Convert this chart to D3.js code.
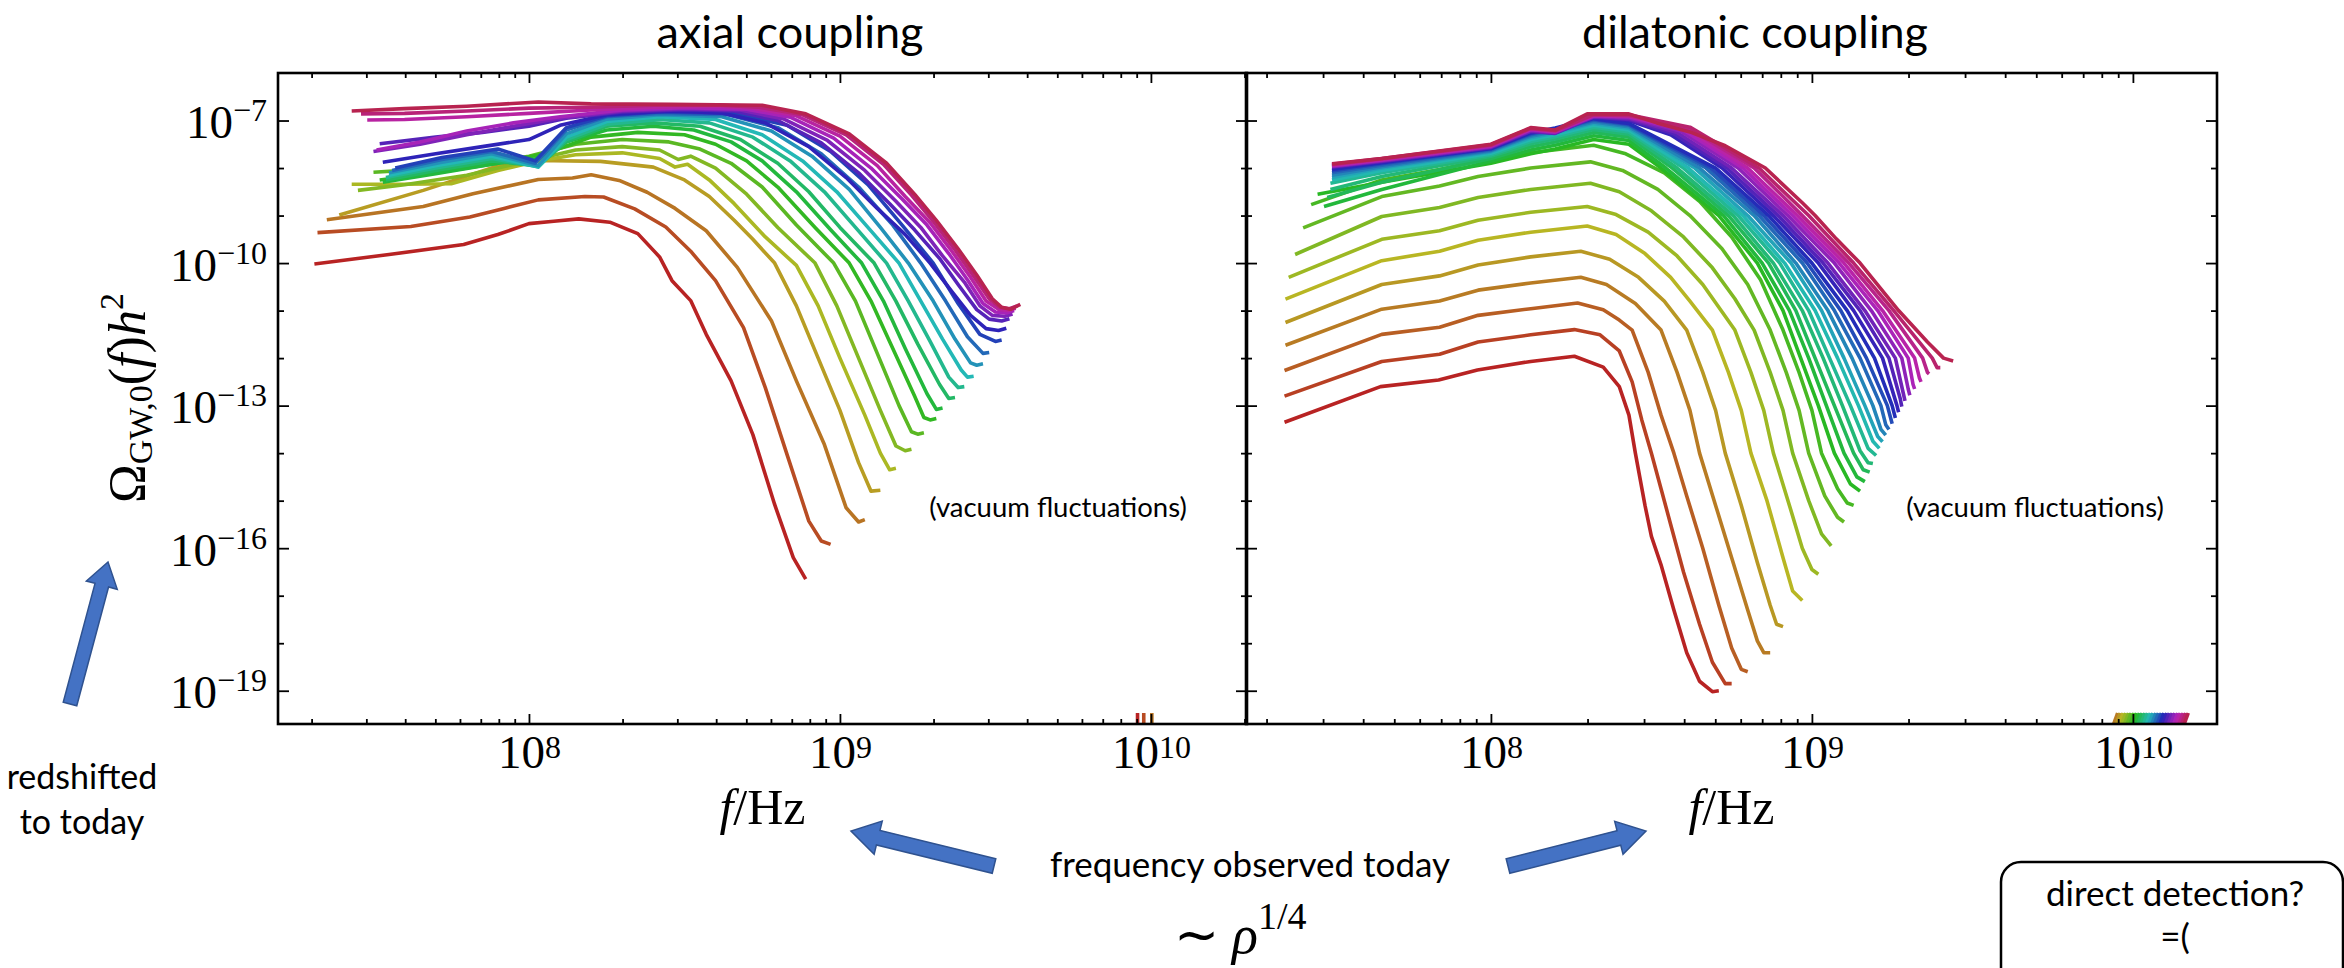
<!DOCTYPE html>
<html>
<head>
<meta charset="utf-8">
<title>Gravitational wave spectra: axial vs dilatonic coupling</title>
<script src="https://cdn.jsdelivr.net/npm/d3@7"></script>
<style>
  body { margin: 0; background: #fff; }
  text { fill: #000; }
  .tick line { stroke: #000; stroke-width: 1.8; }
  .domain { display: none; }
</style>
</head>
<body>
<svg id="chart" width="2344" height="968"></svg>
<script>
// every curve is a list of [log10(f/Hz), log10(Omega_GW,0 h^2)]

const axialCurves = [
  [[7.31,-10.02],[7.55,-9.82],[7.79,-9.61],[7.9,-9.4],[8.0,-9.17],[8.08,-9.12],[8.16,-9.07],[8.26,-9.14],[8.35,-9.38],[8.42,-9.87],[8.46,-10.37],[8.52,-10.79],[8.57,-11.5],[8.65,-12.48],[8.72,-13.61],[8.79,-15.08],[8.85,-16.2],[8.89,-16.65]],
  [[7.32,-9.36],[7.62,-9.23],[7.81,-9.03],[7.92,-8.85],[8.03,-8.67],[8.18,-8.6],[8.24,-8.61],[8.34,-8.86],[8.44,-9.24],[8.52,-9.75],[8.6,-10.37],[8.69,-11.36],[8.76,-12.62],[8.83,-14.03],[8.9,-15.43],[8.94,-15.85],[8.97,-15.92]],
  [[7.35,-9.09],[7.66,-8.81],[7.82,-8.54],[8.03,-8.24],[8.14,-8.21],[8.2,-8.14],[8.29,-8.26],[8.38,-8.51],[8.47,-8.85],[8.57,-9.32],[8.67,-10.09],[8.78,-11.22],[8.86,-12.48],[8.95,-13.82],[9.02,-15.15],[9.06,-15.45],[9.08,-15.4]],
  [[7.39,-8.99],[7.66,-8.47],[7.89,-7.98],[8.03,-7.84],[8.23,-7.86],[8.4,-7.98],[8.5,-8.25],[8.58,-8.6],[8.66,-9.1],[8.72,-9.5],[8.79,-10.0],[8.86,-10.9],[8.93,-12.0],[9.0,-13.1],[9.06,-14.2],[9.1,-14.8],[9.13,-14.78]],
  [[7.43,-8.34],[7.6,-8.34],[7.75,-8.33],[7.9,-8.05],[8.03,-7.85],[8.15,-7.72],[8.3,-7.68],[8.42,-7.8],[8.47,-7.98],[8.51,-7.92],[8.58,-8.25],[8.66,-8.75],[8.76,-9.45],[8.86,-10.05],[8.93,-10.9],[9.0,-12.0],[9.08,-13.2],[9.13,-14.0],[9.16,-14.35],[9.18,-14.32]],
  [[7.45,-8.47],[7.6,-8.35],[7.8,-8.15],[8.0,-7.85],[8.15,-7.62],[8.3,-7.55],[8.42,-7.62],[8.48,-7.82],[8.52,-7.75],[8.6,-8.0],[8.7,-8.55],[8.8,-9.25],[8.92,-10.0],[8.99,-10.9],[9.06,-12.0],[9.13,-13.1],[9.18,-13.85],[9.21,-13.95],[9.23,-13.92]],
  [[7.5,-8.09],[7.6,-8.05],[7.8,-7.95],[8.0,-7.75],[8.15,-7.5],[8.3,-7.4],[8.45,-7.45],[8.55,-7.6],[8.65,-7.9],[8.75,-8.4],[8.86,-9.2],[8.98,-10.0],[9.05,-10.8],[9.12,-11.9],[9.19,-13.0],[9.23,-13.55],[9.25,-13.6],[9.27,-13.57]],
  [[7.52,-8.25],[7.7,-8.1],[7.9,-7.9],[8.05,-7.7],[8.2,-7.35],[8.35,-7.25],[8.5,-7.3],[8.6,-7.5],[8.7,-7.85],[8.8,-8.4],[8.92,-9.25],[9.03,-10.0],[9.1,-10.8],[9.17,-11.8],[9.24,-12.8],[9.27,-13.25],[9.29,-13.3],[9.31,-13.27]],
  [[7.53,-8.3],[7.7,-8.12],[7.9,-7.9],[8.03,-7.8],[8.12,-7.45],[8.25,-7.2],[8.4,-7.12],[8.53,-7.2],[8.65,-7.45],[8.75,-7.85],[8.86,-8.5],[8.97,-9.3],[9.07,-10.0],[9.14,-10.8],[9.21,-11.8],[9.28,-12.75],[9.31,-13.08],[9.33,-13.05]],
  [[7.54,-8.25],[7.7,-8.05],[7.88,-7.85],[8.03,-7.95],[8.12,-7.45],[8.25,-7.12],[8.4,-7.05],[8.55,-7.12],[8.68,-7.4],[8.8,-7.9],[8.9,-8.5],[9.0,-9.25],[9.11,-10.0],[9.18,-10.8],[9.25,-11.7],[9.32,-12.55],[9.35,-12.85],[9.37,-12.83]],
  [[7.54,-8.2],[7.7,-8.0],[7.88,-7.8],[8.03,-7.97],[8.12,-7.4],[8.25,-7.08],[8.42,-6.98],[8.58,-7.05],[8.72,-7.35],[8.84,-7.85],[8.95,-8.5],[9.05,-9.25],[9.15,-10.0],[9.22,-10.8],[9.29,-11.65],[9.35,-12.4],[9.38,-12.62],[9.4,-12.6]],
  [[7.55,-8.15],[7.7,-7.95],[7.88,-7.75],[8.03,-7.98],[8.12,-7.35],[8.25,-7.02],[8.42,-6.92],[8.6,-6.98],[8.75,-7.3],[8.88,-7.85],[8.99,-8.5],[9.09,-9.25],[9.19,-10.0],[9.26,-10.8],[9.33,-11.6],[9.39,-12.25],[9.41,-12.4],[9.43,-12.38]],
  [[7.55,-8.1],[7.72,-7.88],[7.88,-7.7],[8.03,-7.95],[8.12,-7.28],[8.25,-6.97],[8.42,-6.88],[8.62,-6.92],[8.78,-7.22],[8.91,-7.75],[9.03,-8.45],[9.13,-9.25],[9.22,-10.0],[9.3,-10.8],[9.37,-11.6],[9.42,-12.1],[9.44,-12.15],[9.46,-12.12]],
  [[7.56,-8.05],[7.72,-7.82],[7.88,-7.65],[8.02,-7.9],[8.12,-7.2],[8.25,-6.92],[8.42,-6.85],[8.64,-6.88],[8.8,-7.15],[8.94,-7.7],[9.06,-8.4],[9.17,-9.2],[9.26,-10.0],[9.34,-10.8],[9.41,-11.55],[9.46,-11.9],[9.48,-11.88]],
  [[7.57,-8.0],[7.72,-7.78],[7.9,-7.6],[8.02,-7.85],[8.12,-7.15],[8.25,-6.9],[8.42,-6.82],[8.66,-6.85],[8.83,-7.1],[8.97,-7.65],[9.09,-8.35],[9.2,-9.2],[9.3,-10.0],[9.38,-10.85],[9.45,-11.5],[9.5,-11.65],[9.52,-11.62]],
  [[7.53,-7.88],[7.7,-7.7],[7.85,-7.55],[8.0,-7.4],[8.1,-7.1],[8.25,-6.88],[8.45,-6.8],[8.62,-6.84],[8.76,-7.05],[8.9,-7.55],[9.02,-8.2],[9.12,-8.85],[9.21,-9.4],[9.29,-10.0],[9.36,-10.6],[9.42,-11.1],[9.47,-11.38],[9.51,-11.42],[9.535,-11.37]],
  [[7.52,-7.49],[7.7,-7.35],[7.85,-7.25],[8.0,-7.12],[8.12,-6.95],[8.3,-6.82],[8.5,-6.77],[8.66,-6.8],[8.8,-7.0],[8.94,-7.47],[9.06,-8.1],[9.16,-8.75],[9.24,-9.3],[9.32,-9.9],[9.38,-10.45],[9.44,-10.98],[9.48,-11.18],[9.52,-11.22],[9.545,-11.17]],
  [[7.5,-7.65],[7.65,-7.5],[7.8,-7.3],[7.95,-7.12],[8.1,-6.95],[8.3,-6.8],[8.5,-6.75],[8.68,-6.78],[8.82,-6.97],[8.96,-7.42],[9.08,-8.05],[9.18,-8.7],[9.26,-9.25],[9.33,-9.85],[9.4,-10.4],[9.45,-10.9],[9.49,-11.1],[9.53,-11.12],[9.555,-11.07]],
  [[7.51,-7.62],[7.65,-7.45],[7.8,-7.22],[7.95,-7.05],[8.1,-6.92],[8.3,-6.78],[8.5,-6.73],[8.7,-6.76],[8.84,-6.93],[8.98,-7.37],[9.1,-8.0],[9.2,-8.65],[9.28,-9.2],[9.35,-9.8],[9.41,-10.35],[9.46,-10.85],[9.5,-11.03],[9.535,-11.05],[9.56,-11.0]],
  [[7.48,-6.99],[7.6,-6.98],[7.8,-6.92],[8.0,-6.85],[8.2,-6.78],[8.4,-6.72],[8.6,-6.7],[8.72,-6.74],[8.86,-6.9],[9.0,-7.33],[9.12,-7.95],[9.21,-8.6],[9.29,-9.15],[9.36,-9.75],[9.42,-10.3],[9.47,-10.8],[9.51,-10.97],[9.54,-11.0],[9.565,-10.95]],
  [[7.46,-6.86],[7.6,-6.85],[7.8,-6.8],[8.0,-6.74],[8.2,-6.72],[8.4,-6.68],[8.6,-6.67],[8.74,-6.72],[8.88,-6.88],[9.02,-7.3],[9.14,-7.92],[9.23,-8.57],[9.3,-9.12],[9.37,-9.72],[9.43,-10.27],[9.48,-10.75],[9.515,-10.93],[9.545,-10.96],[9.57,-10.9]],
  [[7.43,-6.8],[7.6,-6.75],[7.8,-6.7],[8.03,-6.61],[8.2,-6.65],[8.46,-6.66],[8.75,-6.68],[8.89,-6.86],[9.03,-7.28],[9.15,-7.9],[9.24,-8.55],[9.31,-9.1],[9.38,-9.7],[9.44,-10.25],[9.49,-10.75],[9.52,-10.93],[9.55,-10.97],[9.58,-10.87]]
];

const dilatonicCurves = [
  [[7.357,-13.35],[7.656,-12.6],[7.837,-12.46],[7.958,-12.25],[8.124,-12.07],[8.26,-11.96],[8.35,-12.19],[8.4,-12.6],[8.43,-13.2],[8.45,-14.0],[8.48,-15.1],[8.5,-15.75],[8.53,-16.35],[8.57,-17.3],[8.61,-18.2],[8.65,-18.8],[8.69,-19.02],[8.71,-19.0]],
  [[7.357,-12.8],[7.66,-12.07],[7.84,-11.92],[7.96,-11.66],[8.124,-11.51],[8.26,-11.4],[8.34,-11.51],[8.4,-11.85],[8.44,-12.5],[8.47,-13.3],[8.5,-14.0],[8.53,-14.75],[8.56,-15.5],[8.6,-16.5],[8.65,-17.6],[8.69,-18.4],[8.73,-18.85],[8.75,-18.85]],
  [[7.357,-12.26],[7.66,-11.5],[7.84,-11.35],[7.96,-11.1],[8.124,-10.96],[8.27,-10.84],[8.35,-10.98],[8.4,-11.2],[8.44,-11.41],[8.49,-12.3],[8.53,-13.2],[8.57,-14.0],[8.61,-14.9],[8.66,-16.0],[8.71,-17.2],[8.75,-18.1],[8.78,-18.55],[8.8,-18.6]],
  [[7.36,-11.73],[7.66,-10.97],[7.84,-10.8],[7.96,-10.57],[8.124,-10.42],[8.28,-10.3],[8.36,-10.45],[8.45,-10.85],[8.53,-11.41],[8.58,-12.3],[8.62,-13.1],[8.65,-14.0],[8.7,-15.1],[8.75,-16.2],[8.8,-17.3],[8.83,-17.95],[8.85,-18.2],[8.87,-18.2]],
  [[7.36,-11.25],[7.66,-10.45],[7.84,-10.27],[7.96,-10.04],[8.124,-9.87],[8.28,-9.75],[8.37,-9.92],[8.46,-10.3],[8.54,-10.8],[8.61,-11.41],[8.66,-12.3],[8.7,-13.1],[8.73,-14.0],[8.78,-15.1],[8.83,-16.3],[8.87,-17.2],[8.89,-17.6],[8.91,-17.65]],
  [[7.36,-10.76],[7.66,-9.95],[7.84,-9.75],[7.96,-9.52],[8.124,-9.35],[8.3,-9.22],[8.39,-9.4],[8.48,-9.8],[8.56,-10.3],[8.62,-10.8],[8.69,-11.41],[8.74,-12.3],[8.78,-13.1],[8.81,-14.0],[8.86,-15.0],[8.91,-16.2],[8.94,-16.9],[8.97,-17.1]],
  [[7.37,-10.3],[7.66,-9.5],[7.84,-9.32],[7.96,-9.1],[8.124,-8.93],[8.3,-8.81],[8.39,-8.98],[8.49,-9.35],[8.58,-9.85],[8.66,-10.45],[8.76,-11.41],[8.81,-12.3],[8.85,-13.1],[8.88,-14.0],[8.93,-15.1],[8.97,-16.0],[9.0,-16.45],[9.02,-16.55]],
  [[7.39,-9.82],[7.66,-9.02],[7.84,-8.83],[7.96,-8.62],[8.124,-8.45],[8.31,-8.32],[8.4,-8.5],[8.5,-8.9],[8.6,-9.45],[8.69,-10.1],[8.76,-10.75],[8.82,-11.41],[8.87,-12.3],[8.91,-13.1],[8.94,-14.0],[8.99,-15.0],[9.03,-15.7],[9.06,-15.95]],
  [[7.415,-9.26],[7.66,-8.6],[7.84,-8.38],[7.96,-8.18],[8.124,-8.0],[8.31,-7.87],[8.41,-8.05],[8.52,-8.45],[8.62,-9.0],[8.72,-9.7],[8.8,-10.45],[8.87,-11.41],[8.92,-12.3],[8.96,-13.1],[8.99,-14.0],[9.04,-14.9],[9.08,-15.35],[9.1,-15.45]],
  [[7.44,-8.77],[7.66,-8.25],[7.84,-8.03],[7.96,-7.85],[8.124,-7.68],[8.32,-7.52],[8.42,-7.7],[8.54,-8.1],[8.65,-8.7],[8.75,-9.45],[8.84,-10.35],[8.91,-11.41],[8.96,-12.3],[9.0,-13.1],[9.03,-14.0],[9.08,-14.75],[9.11,-15.05],[9.13,-15.1]],
  [[7.46,-8.55],[7.66,-8.3],[8.0,-7.9],[8.124,-7.7],[8.2,-7.6],[8.32,-7.4],[8.43,-7.5],[8.53,-8.0],[8.71,-9.0],[8.83,-10.0],[8.91,-11.0],[8.965,-12.0],[9.02,-13.0],[9.07,-14.0],[9.12,-14.65],[9.15,-14.8]],
  [[7.48,-8.81],[7.66,-8.45],[8.0,-7.85],[8.124,-7.62],[8.2,-7.52],[8.32,-7.32],[8.43,-7.42],[8.545,-8.0],[8.725,-9.0],[8.845,-10.0],[8.93,-11.0],[8.99,-12.0],[9.045,-13.0],[9.1,-14.0],[9.14,-14.5],[9.165,-14.6]],
  [[7.49,-8.62],[7.66,-8.3],[8.0,-7.8],[8.124,-7.55],[8.2,-7.45],[8.32,-7.25],[8.43,-7.35],[8.565,-8.0],[8.74,-9.0],[8.865,-10.0],[8.95,-11.0],[9.01,-12.0],[9.07,-13.0],[9.13,-14.0],[9.16,-14.35],[9.18,-14.4]],
  [[7.5,-8.45],[7.66,-8.18],[8.0,-7.75],[8.124,-7.49],[8.2,-7.39],[8.32,-7.19],[8.43,-7.29],[8.58,-8.0],[8.755,-9.0],[8.88,-10.0],[8.97,-11.0],[9.035,-12.0],[9.095,-13.0],[9.15,-13.95],[9.175,-14.2],[9.19,-14.22]],
  [[7.5,-8.32],[7.66,-8.1],[8.0,-7.72],[8.124,-7.44],[8.2,-7.34],[8.32,-7.14],[8.43,-7.24],[8.6,-8.0],[8.77,-9.0],[8.9,-10.0],[8.99,-11.0],[9.055,-12.0],[9.12,-13.0],[9.175,-13.9],[9.2,-14.05]],
  [[7.505,-8.25],[7.66,-8.05],[8.0,-7.69],[8.124,-7.4],[8.2,-7.3],[8.32,-7.1],[8.43,-7.2],[8.615,-8.0],[8.785,-9.0],[8.915,-10.0],[9.01,-11.0],[9.08,-12.0],[9.145,-13.0],[9.19,-13.75],[9.21,-13.9]],
  [[7.505,-8.2],[7.66,-8.0],[8.0,-7.66],[8.124,-7.36],[8.2,-7.26],[8.32,-7.06],[8.43,-7.16],[8.635,-8.0],[8.8,-9.0],[8.935,-10.0],[9.03,-11.0],[9.1,-12.0],[9.165,-13.0],[9.205,-13.65],[9.22,-13.76]],
  [[7.505,-8.15],[7.66,-7.97],[8.0,-7.64],[8.124,-7.33],[8.2,-7.23],[8.32,-7.03],[8.43,-7.13],[8.65,-8.0],[8.82,-9.0],[8.95,-10.0],[9.05,-11.0],[9.125,-12.0],[9.19,-13.0],[9.215,-13.5],[9.23,-13.62]],
  [[7.505,-8.1],[7.66,-7.94],[8.0,-7.62],[8.124,-7.3],[8.2,-7.2],[8.32,-7.0],[8.43,-7.1],[8.67,-8.0],[8.835,-9.0],[8.97,-10.0],[9.07,-11.0],[9.15,-12.0],[9.215,-13.0],[9.23,-13.4],[9.24,-13.5]],
  [[7.505,-8.06],[7.66,-7.91],[8.0,-7.6],[8.124,-7.28],[8.2,-7.18],[8.32,-6.98],[8.43,-7.08],[8.685,-8.0],[8.85,-9.0],[8.985,-10.0],[9.09,-11.0],[9.17,-12.0],[9.235,-13.0],[9.25,-13.38]],
  [[7.505,-8.03],[7.66,-7.89],[8.0,-7.59],[8.124,-7.26],[8.2,-7.16],[8.32,-6.96],[8.43,-7.06],[8.7,-8.0],[8.865,-9.0],[9.0,-10.0],[9.11,-11.0],[9.195,-12.0],[9.25,-13.0],[9.26,-13.26]],
  [[7.505,-8.0],[7.66,-7.87],[8.0,-7.58],[8.124,-7.24],[8.2,-7.2],[8.32,-6.94],[8.43,-7.0],[8.56,-7.3],[8.72,-8.0],[8.88,-9.0],[9.02,-10.0],[9.13,-11.0],[9.22,-12.0],[9.265,-13.0],[9.27,-13.14]],
  [[7.505,-7.98],[7.66,-7.86],[8.0,-7.57],[8.124,-7.23],[8.2,-7.27],[8.32,-6.93],[8.43,-6.98],[8.57,-7.28],[8.735,-8.0],[8.895,-9.0],[9.035,-10.0],[9.15,-11.0],[9.24,-12.0],[9.275,-12.85],[9.28,-13.02]],
  [[7.505,-7.97],[7.66,-7.85],[8.0,-7.56],[8.124,-7.22],[8.2,-7.26],[8.32,-6.92],[8.43,-6.96],[8.58,-7.25],[8.75,-8.0],[8.91,-9.0],[9.05,-10.0],[9.165,-11.0],[9.26,-12.0],[9.285,-12.75],[9.29,-12.9]],
  [[7.505,-7.96],[7.66,-7.84],[8.0,-7.55],[8.124,-7.2],[8.2,-7.25],[8.32,-6.91],[8.43,-6.94],[8.59,-7.22],[8.77,-8.0],[8.925,-9.0],[9.07,-10.0],[9.185,-11.0],[9.28,-12.0],[9.3,-12.65],[9.305,-12.78]],
  [[7.505,-7.95],[7.66,-7.83],[8.0,-7.54],[8.124,-7.19],[8.2,-7.24],[8.32,-6.9],[8.43,-6.92],[8.6,-7.2],[8.785,-8.0],[8.94,-9.0],[9.085,-10.0],[9.205,-11.0],[9.3,-12.0],[9.315,-12.55],[9.32,-12.65]],
  [[7.505,-7.94],[7.66,-7.82],[8.0,-7.53],[8.124,-7.18],[8.2,-7.23],[8.32,-6.89],[8.43,-6.91],[8.61,-7.18],[8.8,-8.0],[8.955,-9.0],[9.1,-10.0],[9.22,-11.0],[9.32,-12.0],[9.335,-12.42],[9.34,-12.5]],
  [[7.505,-7.93],[7.66,-7.81],[8.0,-7.52],[8.124,-7.17],[8.2,-7.22],[8.32,-6.88],[8.43,-6.9],[8.615,-7.16],[8.82,-8.0],[8.97,-9.0],[9.115,-10.0],[9.24,-11.0],[9.345,-12.0],[9.36,-12.3],[9.365,-12.33]],
  [[7.505,-7.92],[7.66,-7.8],[8.0,-7.51],[8.124,-7.16],[8.2,-7.21],[8.32,-6.87],[8.43,-6.88],[8.62,-7.14],[8.835,-8.0],[8.99,-9.0],[9.13,-10.0],[9.255,-11.0],[9.375,-12.0],[9.39,-12.2],[9.4,-12.2]],
  [[7.505,-7.91],[7.66,-7.8],[8.0,-7.5],[8.124,-7.15],[8.2,-7.2],[8.3,-6.86],[8.43,-6.86],[8.517,-7.05],[8.62,-7.24],[8.73,-7.53],[8.855,-8.0],[8.97,-8.73],[9.01,-9.0],[9.076,-9.49],[9.15,-10.0],[9.27,-11.0],[9.36,-11.66],[9.41,-12.0],[9.44,-12.06]]
];

// short coloured stubs sitting on the bottom axis near 10^10 (log10 f)
const axialEdgeMarks = [9.957, 9.977, 10.003];
const dilatonicEdgeMarks = [9.94,9.948,9.957,9.965,9.974,9.982,9.991,9.999,10.008,10.016,10.025,10.033,10.042,10.05,10.059,10.067,10.076,10.084,10.093,10.101,10.11,10.118,10.127,10.135,10.144,10.152,10.16];

const xMajorExps = [8, 9, 10];
const yDecadeExps = [-19, -18, -17, -16, -15, -14, -13, -12, -11, -10, -9, -8, -7];
const yLabelExps = [-7, -10, -13, -16, -19];
const panelTitles = ["axial coupling", "dilatonic coupling"];

const svg = d3.select("#chart");
svg.append("rect").attr("width", 2344).attr("height", 968).attr("fill", "#fff");

// layout
const yTop = 73, yBot = 724;
const panels = [
  { x0: 278, x1: 1247, logDomain: [7.193, 10.309], curves: axialCurves, marks: axialEdgeMarks, markOffset: 0, slant: 0, title: panelTitles[0], titleX: 790, yLabels: true },
  { x0: 1246, x1: 2217, logDomain: [7.237, 10.262], curves: dilatonicCurves, marks: dilatonicEdgeMarks, markOffset: 3, slant: 4, title: panelTitles[1], titleX: 1755, yLabels: false }
];

const y = d3.scaleLog().domain([Math.pow(10, -19.70), Math.pow(10, -6.0)]).range([yBot, yTop]);
const serif = "'Liberation Serif', 'Times New Roman', serif";
const sans = "Lato, 'Open Sans', sans-serif";

function colorFor(i, n) {
  return d3.hsl(i / (n - 1) * 342, 0.68, 0.43).toString();
}

function powerLabel(textSel, exp, supSize, supDy) {
  textSel.append("tspan").text("10");
  textSel.append("tspan")
    .attr("font-size", supSize)
    .attr("dy", supDy)
    .text(exp < 0 ? "\u2212" + (-exp) : String(exp));
}

panels.forEach((p, pi) => {
  const x = d3.scaleLog()
    .domain([Math.pow(10, p.logDomain[0]), Math.pow(10, p.logDomain[1])])
    .range([p.x0, p.x1]);

  const g = svg.append("g").attr("class", "panel-" + pi);

  const clipId = "clip" + pi;
  svg.append("clipPath").attr("id", clipId)
    .append("rect").attr("x", p.x0).attr("y", yTop).attr("width", p.x1 - p.x0).attr("height", yBot - yTop);

  // curves
  const line = d3.line()
    .x(d => x(Math.pow(10, d[0])))
    .y(d => y(Math.pow(10, d[1])));

  const n = p.curves.length;
  g.append("g").attr("clip-path", `url(#${clipId})`)
    .selectAll("path")
    .data(p.curves)
    .join("path")
    .attr("fill", "none")
    .attr("stroke", (d, i) => colorFor(i, n))
    .attr("stroke-width", 3.6)
    .attr("stroke-linejoin", "round")
    .attr("d", line);

  // stubs on the bottom axis
  g.append("g").selectAll("line")
    .data(p.marks)
    .join("line")
    .attr("x1", d => x(Math.pow(10, d)))
    .attr("x2", d => x(Math.pow(10, d)) + p.slant)
    .attr("y1", yBot)
    .attr("y2", yBot - 11)
    .attr("stroke", (d, i) => colorFor(i + p.markOffset, n))
    .attr("stroke-width", 3.6);

  // ticks, all pointing inwards
  const majorX = xMajorExps.map(e => Math.pow(10, e));
  const minorX = [];
  for (let e = 7; e <= 10; e++) {
    for (let m = 2; m <= 9; m++) {
      const v = m * Math.pow(10, e);
      if (v > x.domain()[0] && v < x.domain()[1]) minorX.push(v);
    }
  }
  const yMajor = yLabelExps.map(e => Math.pow(10, e));
  const yMinor = yDecadeExps.filter(e => !yLabelExps.includes(e)).map(e => Math.pow(10, e));

  const axes = g.append("g");
  axes.append("g").attr("transform", `translate(0,${yBot})`)
    .call(d3.axisBottom(x).tickValues(minorX).tickSize(-5).tickFormat(""));
  const bottomMajor = axes.append("g").attr("transform", `translate(0,${yBot})`)
    .call(d3.axisBottom(x).tickValues(majorX).tickSize(-10).tickFormat(""));
  axes.append("g").attr("transform", `translate(0,${yTop})`)
    .call(d3.axisTop(x).tickValues(minorX).tickSize(-5).tickFormat(""));
  axes.append("g").attr("transform", `translate(0,${yTop})`)
    .call(d3.axisTop(x).tickValues(majorX).tickSize(-10).tickFormat(""));

  axes.append("g").attr("transform", `translate(${p.x0},0)`)
    .call(d3.axisLeft(y).tickValues(yMinor).tickSize(-6).tickFormat(""));
  const leftMajor = axes.append("g").attr("transform", `translate(${p.x0},0)`)
    .call(d3.axisLeft(y).tickValues(yMajor).tickSize(-11).tickFormat(""));
  axes.append("g").attr("transform", `translate(${p.x1},0)`)
    .call(d3.axisRight(y).tickValues(yMinor).tickSize(-6).tickFormat(""));
  axes.append("g").attr("transform", `translate(${p.x1},0)`)
    .call(d3.axisRight(y).tickValues(yMajor).tickSize(-11).tickFormat(""));

  axes.selectAll(".tick text").remove();

  // x tick labels 10^8, 10^9, 10^10
  bottomMajor.selectAll(".tick")
    .append("text")
    .attr("y", 44)
    .attr("text-anchor", "middle")
    .attr("font-family", serif)
    .attr("font-size", 47)
    .each(function (d) {
      powerLabel(d3.select(this), Math.round(Math.log10(d)), 32, -10);
    });

  if (p.yLabels) {
    leftMajor.selectAll(".tick")
      .append("text")
      .attr("x", -11)
      .attr("y", 17)
      .attr("text-anchor", "end")
      .attr("font-family", serif)
      .attr("font-size", 47)
      .each(function (d) {
        powerLabel(d3.select(this), Math.round(Math.log10(d)), 32, -17);
      });
  }

  // frame
  g.append("rect")
    .attr("x", p.x0).attr("y", yTop)
    .attr("width", p.x1 - p.x0).attr("height", yBot - yTop)
    .attr("fill", "none")
    .attr("stroke", "#000")
    .attr("stroke-width", 2.6);

  // x axis label f/Hz
  const xl = g.append("text")
    .attr("x", (p.x0 + p.x1) / 2)
    .attr("y", 824)
    .attr("text-anchor", "middle")
    .attr("font-family", serif)
    .attr("font-size", 50);
  xl.append("tspan").attr("font-style", "italic").text("f");
  xl.append("tspan").text("/Hz");

  // panel title
  g.append("text")
    .attr("x", p.titleX)
    .attr("y", 48)
    .attr("text-anchor", "middle")
    .attr("font-family", sans)
    .attr("font-size", 45)
    .text(p.title);
});

// y axis label
const yl = svg.append("text")
  .attr("transform", "translate(145,398) rotate(-90)")
  .attr("text-anchor", "middle")
  .attr("font-family", serif)
  .attr("font-size", 52);
yl.append("tspan").text("\u03A9");
yl.append("tspan").attr("font-size", 34).attr("dy", 7).text("GW,0");
yl.append("tspan").attr("dy", -7).text("(");
yl.append("tspan").attr("font-style", "italic").text("f");
yl.append("tspan").text(")");
yl.append("tspan").attr("font-style", "italic").text("h");
yl.append("tspan").attr("font-size", 34).attr("dy", -22).text("2");

// annotations
function note(x, yy, txt, size) {
  svg.append("text")
    .attr("x", x).attr("y", yy)
    .attr("text-anchor", "middle")
    .attr("font-family", sans)
    .attr("font-size", size)
    .text(txt);
}
note(1058, 517, "(vacuum fluctuations)", 27.5);
note(2035, 517, "(vacuum fluctuations)", 27.5);
note(1250, 877, "frequency observed today", 35);
note(82, 789, "redshifted", 34);
note(82, 834, "to today", 34);

const rho = svg.append("text")
  .attr("x", 1240).attr("y", 953)
  .attr("text-anchor", "middle")
  .attr("font-family", serif)
  .attr("font-size", 54);
rho.append("tspan").text("\u223C ");
rho.append("tspan").attr("font-style", "italic").text("\u03C1");
rho.append("tspan").attr("font-size", 38).attr("dy", -24).text("1/4");

// rounded box
svg.append("rect")
  .attr("x", 2001).attr("y", 862)
  .attr("width", 342).attr("height", 130)
  .attr("rx", 20)
  .attr("fill", "none")
  .attr("stroke", "#000")
  .attr("stroke-width", 2.5);
note(2175, 906, "direct detection?", 35);
note(2175, 949, "=(", 35);

// blue block arrows
function blockArrow(tail, tip, w, hw, hl) {
  const dx = tip[0] - tail[0], dy = tip[1] - tail[1];
  const L = Math.hypot(dx, dy), ux = dx / L, uy = dy / L, px = -uy, py = ux;
  const bx = tip[0] - ux * hl, by = tip[1] - uy * hl;
  return [
    [tail[0] + px * w / 2, tail[1] + py * w / 2],
    [bx + px * w / 2, by + py * w / 2],
    [bx + px * hw / 2, by + py * hw / 2],
    tip,
    [bx - px * hw / 2, by - py * hw / 2],
    [bx - px * w / 2, by - py * w / 2],
    [tail[0] - px * w / 2, tail[1] - py * w / 2]
  ];
}
const arrows = [
  blockArrow([70, 704], [108, 562], 14, 32, 24),
  blockArrow([994, 866], [851, 831], 15, 34, 28),
  blockArrow([1508, 866], [1646, 831], 15, 34, 28)
];
svg.append("g").selectAll("polygon")
  .data(arrows)
  .join("polygon")
  .attr("points", d => d.map(q => q.join(",")).join(" "))
  .attr("fill", "#4472C4")
  .attr("stroke", "#2F528F")
  .attr("stroke-width", 1.5);
</script>
</body>
</html>
